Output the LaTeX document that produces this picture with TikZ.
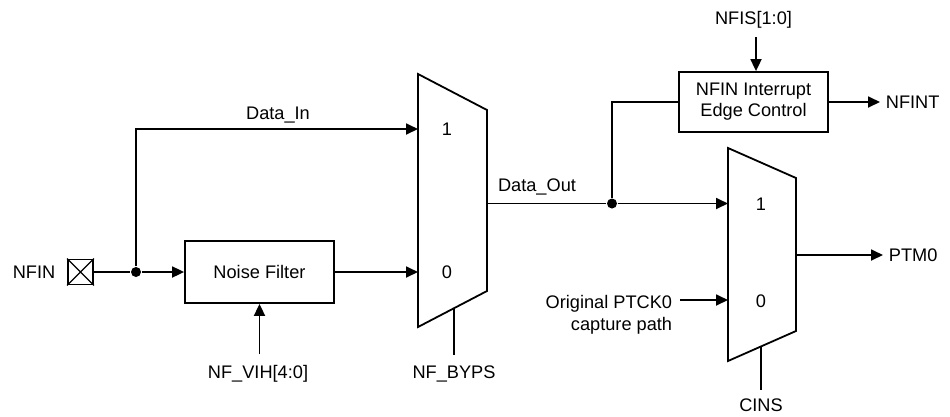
\documentclass[tikz,border=0pt]{standalone}
\usepackage{fontspec}
\setmainfont{Liberation Sans}
\usetikzlibrary{arrows.meta}
\begin{document}
\begin{tikzpicture}[x=1pt,y=-1pt,line width=1.8pt,
  lbl/.style={font=\fontsize{18.2}{22}\selectfont,inner sep=0pt},
  blk/.style={draw,font=\fontsize{18.2}{21}\selectfont,inner sep=0pt,align=center},
  arr/.style={-{Triangle[length=12pt,width=11pt]}},
  jdot/.style={circle,fill,inner sep=0pt,minimum size=10pt},
  muxshape/.style={draw,line join=miter}]
\useasboundingbox (0,0) rectangle (950,416);

% pad
\node[draw,minimum size=25pt,inner sep=0pt] (pad) at (80.5,272) {};
\draw[line width=1.3pt] (pad.north west) -- (pad.south east) (pad.north east) -- (pad.south west);
\node[lbl,anchor=base] (nfin) at (34,278) {NFIN};

% noise filter
\node[blk,minimum width=149pt,minimum height=62pt] (nf) at (259.5,272) {Noise Filter};
\node[lbl,anchor=base] (nfvih) at (258,378.5) {NF\_VIH[4:0]};
\coordinate (vihs) at (259.5,354);

% mux 1
\draw[muxshape] (418,74) coordinate (m1tl) -- (487,110) -- (487,291) -- (418,327) -- cycle;
\coordinate (m1in1) at (418,129);
\coordinate (m1in0) at (418,272);
\coordinate (m1out) at (487,203.5);
\coordinate (m1sel) at (454,308.2);
\coordinate (m1sele) at (454,355);
\node[lbl,anchor=base] (m1one) at (447,135.5) {1};
\node[lbl,anchor=base] (m1zero) at (447,278.5) {0};
\node[lbl,anchor=base] (bypsl) at (454,378) {NF\_BYPS};

% junctions
\node[jdot] (j1) at (136,272) {};
\node[jdot] (j2) at (612,203.5) {};

% data in
\node[lbl,anchor=base] (datain) at (278,119.5) {Data\_In};
\node[lbl,anchor=base] (dataout) at (537,191.5) {Data\_Out};

% interrupt block
\node[blk,minimum width=149pt,minimum height=60pt] (nfi) at (753.5,102) {NFIN Interrupt\\Edge Control};
\node[lbl,anchor=base] (nfis) at (753.5,24.5) {NFIS[1:0]};
\coordinate (nfiss) at (756,37);
\coordinate (nfintend) at (880,102);
\node[lbl,anchor=base west] (nfint) at (885,108.5) {NFINT};

% mux 2
\draw[muxshape] (728,148) -- (796,178) -- (796,331) -- (728,361) -- cycle;
\coordinate (m2in1) at (728,203.5);
\coordinate (m2in0) at (728,300);
\coordinate (m2out) at (796,255);
\coordinate (m2sel) at (761,346.4);
\coordinate (m2sele) at (761,390);
\node[lbl,anchor=base] (m2one) at (761,210.5) {1};
\node[lbl,anchor=base] (m2zero) at (761,307.5) {0};
\node[lbl,anchor=base] (cins) at (761,411.5) {CINS};
\coordinate (ptmend) at (883,255);
\node[lbl,anchor=base west] (ptm) at (888,261.5) {PTM0};
\node[lbl,anchor=east,align=right] (orig) at (673,314.5) {Original PTCK0\\capture path};
\coordinate (origs) at (680,300);

% connectors
\draw (pad.east) -- (j1);
\draw[arr] (j1) -- (nf.west);
\draw[arr] (j1) |- (m1in1);
\draw[arr] (nf.east) -- (m1in0);
\draw[arr] (vihs) -- (vihs |- nf.south);
\draw (m1sel) -- (m1sele);
\draw (m1out) -- (j2);
\draw[arr] (j2) -- (m2in1);
\draw (j2) |- (nfi.west);
\draw[arr] (nfiss) -- (nfiss |- nfi.north);
\draw[arr] (nfi.east) -- (nfintend);
\draw[arr] (m2out) -- (ptmend);
\draw[arr] (origs) -- (m2in0);
\draw (m2sel) -- (m2sele);
\end{tikzpicture}
\end{document}
